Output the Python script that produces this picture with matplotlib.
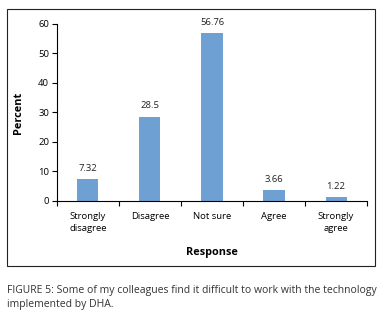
import matplotlib.pyplot as plt
from matplotlib.patches import Rectangle

categories = ['Strongly\ndisagree', 'Disagree', 'Not sure', 'Agree', 'Strongly\nagree']
percent = [7.32, 28.5, 56.76, 3.66, 1.22]
value_labels = ['7.32', '28.5', '56.76', '3.66', '1.22']

plt.rcParams['font.family'] = ['Open Sans', 'DejaVu Sans']

fig = plt.figure(figsize=(3.84, 3.14), dpi=100)
ax = fig.add_axes([0.148, 0.360, 0.808, 0.564])

x = range(len(categories))
bars = ax.bar(x, percent, width=0.34, color='#6fa0d4')
for b, lab in zip(bars, value_labels):
    ax.text(b.get_x() + b.get_width() / 2, b.get_height() + 2.2, lab,
            ha='center', va='bottom', fontsize=6.8, color='#222222')

ax.set_xlim(-0.5, len(categories) - 0.5)
ax.set_ylim(0, 60)
ax.set_yticks(range(0, 61, 10))
ax.set_xticks([i + 0.5 for i in range(-1, len(categories))], minor=False)
ax.set_xticklabels([])
ax.set_xticks(list(x), minor=True)
ax.set_xticklabels(categories, minor=True, fontsize=6.8, linespacing=1.4)
ax.tick_params(axis='x', which='minor', length=0, pad=8)
ax.tick_params(axis='x', which='major', length=3.5, width=0.8, direction='out')
ax.tick_params(axis='y', length=3.5, width=0.8, labelsize=6.8, pad=2)
for s in ['top', 'right']:
    ax.spines[s].set_visible(False)
ax.spines['left'].set_linewidth(0.8)
ax.spines['bottom'].set_linewidth(0.8)

ax.set_ylabel('Percent', fontsize=7.8, fontweight='bold', labelpad=10)
ax.set_xlabel('Response', fontsize=7.8, fontweight='bold', labelpad=10)

fig.patches.append(Rectangle((0.018, 0.153), 0.959, 0.818, transform=fig.transFigure,
                             fill=False, edgecolor='#222222', linewidth=0.8))

fig.text(0.018, 0.052, 'FIGURE 5: Some of my colleagues find it difficult to work with the technology\nimplemented by DHA.',
         fontsize=7.45, color='#333333', ha='left', va='center', linespacing=1.3)

fig.savefig('out.png', dpi=100)
